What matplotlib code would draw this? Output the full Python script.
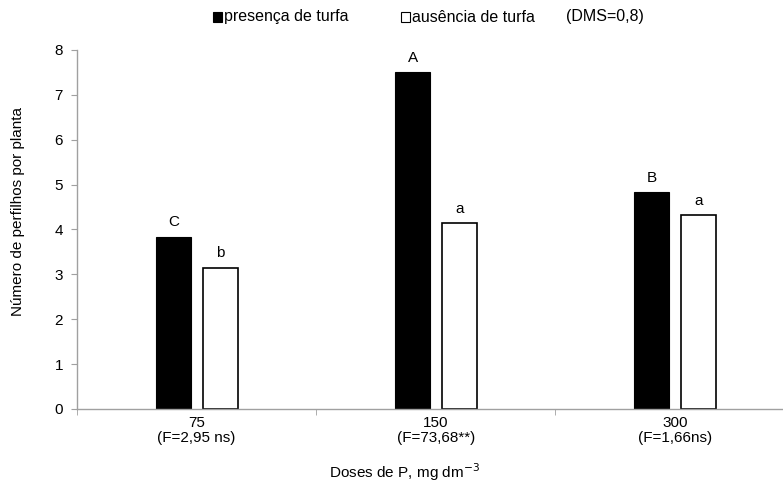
import matplotlib
matplotlib.use("Agg")
import matplotlib.pyplot as plt
from matplotlib.patches import Rectangle
import numpy as np

plt.rcParams['font.family'] = ['Liberation Sans', 'DejaVu Sans']

doses = ["75", "150", "300"]
f_tests = ["(F=2,95 ns)", "(F=73,68**)", "(F=1,66ns)"]
presenca = [3.83, 7.50, 4.83]
ausencia = [3.14, 4.14, 4.32]
letters_presenca = ["C", "A", "B"]
letters_ausencia = ["b", "a", "a"]
series_names = ["presença de turfa", "ausência de turfa"]
dms_text = "(DMS=0,8)"

W, H = 783, 483
fig = plt.figure(figsize=(W/100, H/100), dpi=100)
ax = fig.add_axes([77/W, 1 - 409/H, 1 - 77/W, (409 - 50)/H])

x = np.arange(len(doses))
w = 0.146
off_b = -0.096
off_w = 0.100
ax.bar(x + off_b, presenca, width=w, color='black', edgecolor='black', linewidth=0.8)
ax.bar(x + off_w, ausencia, width=w, color='white', edgecolor='black', linewidth=1.2)

for i in range(len(doses)):
    ax.text(x[i] + off_b, presenca[i] + 0.17, letters_presenca[i], ha='center', va='bottom', fontsize=11)
    ax.text(x[i] + off_w, ausencia[i] + 0.17, letters_ausencia[i], ha='center', va='bottom', fontsize=11)

ax.set_xlim(-0.5, 2.452)
ax.set_ylim(0, 8)
ax.set_yticks(range(0, 9))
ax.tick_params(axis='y', labelsize=11, length=4, color='#a0a0a0', pad=6)

ax.set_xticks(x)
ax.set_xticklabels([f"{d}\n{f}" for d, f in zip(doses, f_tests)], fontsize=11, linespacing=1.1)
ax.tick_params(axis='x', which='major', length=0, pad=5)
ax.set_xticks([-0.5, 0.5, 1.5], minor=True)
ax.tick_params(axis='x', which='minor', length=4, color='#a0a0a0', direction='out')

for s in ['top', 'right']:
    ax.spines[s].set_visible(False)
for s in ['left', 'bottom']:
    ax.spines[s].set_color('#a0a0a0')
    ax.spines[s].set_linewidth(1.0)

ax.set_ylabel("Número de perfilhos por planta", fontsize=11, va='center', ha='center')
ax.yaxis.set_label_coords((18 - 77)/706, (409 - 212)/359)
ax.set_xlabel("Doses de P, mg dm$^{-3}$", fontsize=11, va='center', ha='center')
ax.xaxis.set_label_coords((404 - 77)/706, -(472 - 409)/359)

# legend at top
ly = 1 - 17/H
sq = 9
fig.add_artist(Rectangle((213/W, ly - sq/2/H), sq/W, sq/H, transform=fig.transFigure,
                         facecolor='black', edgecolor='black', linewidth=0.8))
fig.text(224/W, ly, series_names[0], ha='left', va='center', fontsize=11.5)
fig.add_artist(Rectangle((401/W, ly - sq/2/H), sq/W, sq/H, transform=fig.transFigure,
                         facecolor='white', edgecolor='black', linewidth=0.8))
fig.text(412/W, ly, series_names[1], ha='left', va='center', fontsize=11.5)
fig.text(566/W, ly, dms_text, ha='left', va='center', fontsize=11.5)

fig.savefig("out.png", dpi=100)
